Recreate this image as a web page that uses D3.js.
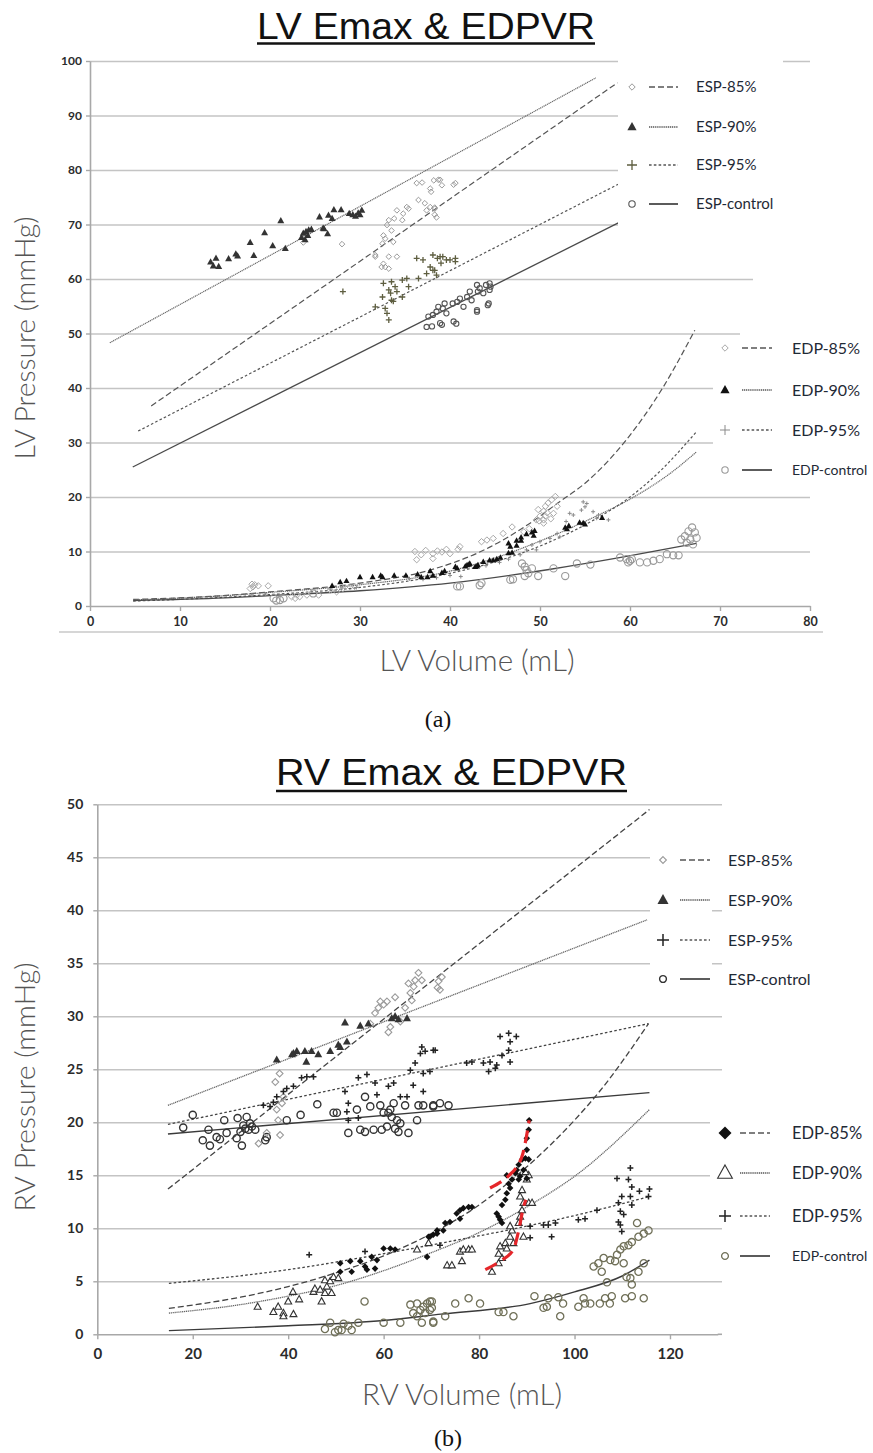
<!DOCTYPE html>
<html>
<head>
<meta charset="utf-8">
<script src="https://cdn.jsdelivr.net/npm/d3@7"></script>
<style>
body { margin: 0; background: #fff; }
svg { display: block; }
</style>
</head>
<body>
<div id="figure"></div>
<script>
//----- panel (a) LV data, [volume mL, pressure mmHg] -----
var lvXTicks = [0, 10, 20, 30, 40, 50, 60, 70, 80];
var lvYTicks = [0, 10, 20, 30, 40, 50, 60, 70, 80, 90, 100];

var lvEsp85 = [[36.3,77.6],[36.9,77.7],[38.2,78.1],[38.7,78.2],[37.8,76.6],[37.9,76.0],[39.1,77.2],[40.6,77.6],[40.4,77.3],[36.5,74.5],[37.2,73.9],[35.2,73.2],[34.1,72.6],[34.8,72.0],[35.4,72.9],[37.4,72.6],[37.8,73.2],[38.3,72.9],[38.5,71.3],[33.8,71.1],[33.2,70.8],[34.7,70.8],[33.0,69.9],[33.5,68.9],[32.6,68.0],[32.8,67.4],[33.7,66.8],[32.5,66.5],[28.0,66.4],[31.7,64.1],[33.2,64.1],[34.1,64.1],[32.6,62.8],[32.8,62.2],[33.2,61.9],[32.4,62.2],[23.7,66.7],[38.9,78.2],[38.3,73.1],[38.3,71.8],[31.7,64.4]];
var lvEsp90 = [[13.4,63.1],[14.0,63.8],[13.7,62.4],[14.3,62.3],[15.4,63.7],[16.2,64.6],[16.4,64.2],[17.8,66.7],[18.2,64.3],[19.4,68.5],[20.3,66.1],[21.2,70.7],[21.7,65.6],[23.5,67.6],[23.7,68.4],[24.0,68.7],[24.3,69.0],[24.6,69.1],[25.5,71.4],[26.0,69.2],[26.4,68.3],[26.5,71.7],[26.9,71.1],[27.1,72.7],[27.9,72.7],[28.8,72.0],[29.2,71.8],[29.8,72.1],[30.2,72.6],[30.0,71.8],[29.5,71.5],[24.2,68.0],[23.9,67.2],[25.9,69.3]];
var lvEsp95 = [[36.3,63.8],[37.0,63.5],[38.1,64.4],[38.6,63.8],[39.2,64.1],[39.6,63.5],[40.6,63.8],[39.0,62.9],[37.8,62.2],[38.3,61.6],[37.4,61.0],[38.5,60.7],[36.5,60.1],[35.2,60.1],[34.7,59.8],[32.6,59.2],[33.5,59.5],[33.9,58.6],[33.2,58.0],[34.1,57.7],[35.4,58.6],[34.7,56.7],[33.4,57.4],[32.5,56.7],[33.5,56.1],[31.7,54.9],[32.8,54.6],[33.0,53.7],[33.2,52.5],[28.1,57.7],[33.7,55.9],[38.9,64.1],[40.0,63.5],[40.6,63.2],[38.1,61.6]];
var lvEspCtrl = [[43.0,58.9],[43.3,58.3],[44.0,58.9],[44.4,58.0],[44.5,58.6],[43.1,57.7],[43.7,57.4],[42.2,57.7],[41.9,56.7],[42.4,56.1],[41.1,56.4],[40.8,55.8],[40.3,55.5],[39.4,55.5],[39.2,54.6],[38.7,54.9],[38.5,54.0],[38.1,53.4],[37.6,53.1],[37.4,51.2],[38.0,51.3],[39.1,51.6],[40.7,51.8],[43.0,54.0],[44.2,55.2],[39.6,53.7],[41.5,54.9],[44.4,59.2],[44.3,55.5],[43.0,54.3],[40.4,52.2],[38.9,51.9]];

var lvEdp85 = [[18.0,4.0],[18.3,3.9],[18.7,3.7],[18.1,3.5],[17.8,3.2],[19.8,3.7],[22.4,1.7],[23.0,2.0],[23.3,1.7],[24.1,2.0],[22.8,1.4],[25.4,2.0],[26.7,2.9],[28.1,3.2],[28.9,3.5],[29.4,3.6],[27.4,2.6],[36.1,10.0],[36.3,8.5],[36.8,9.4],[37.3,10.2],[38.1,9.6],[38.6,10.1],[39.1,9.9],[39.6,10.4],[40.0,9.6],[40.9,10.4],[38.1,8.7],[41.1,10.9],[43.5,11.8],[44.1,12.1],[44.8,12.4],[45.9,13.3],[46.9,14.5],[49.6,15.8],[50.0,16.5],[50.4,17.4],[50.6,18.3],[50.9,18.9],[51.3,19.5],[51.7,20.1],[49.9,15.6],[50.4,15.8],[50.6,16.5],[50.8,17.1],[49.8,17.7],[51.9,18.3],[50.4,15.2],[48.8,14.2],[48.2,13.6],[51.2,16.0],[51.5,17.0]];
var lvEdp90 = [[26.9,3.7],[27.8,4.4],[28.5,4.6],[30.0,5.3],[31.4,5.3],[32.3,5.6],[32.5,5.3],[33.8,5.6],[35.1,5.6],[36.4,5.8],[36.8,5.3],[37.5,5.3],[38.1,5.6],[37.8,6.4],[39.1,6.1],[39.4,6.4],[40.8,6.9],[41.7,7.3],[42.1,7.6],[43.0,7.3],[40.6,7.2],[41.9,7.5],[42.8,7.2],[43.7,8.1],[44.8,8.4],[45.6,8.9],[46.7,10.9],[46.5,11.5],[46.5,9.7],[47.4,12.0],[47.9,12.6],[48.5,13.2],[49.1,13.5],[49.4,13.8],[49.3,12.9],[52.8,14.4],[53.2,14.7],[54.4,15.3],[55.0,15.0],[56.9,16.2],[47.4,11.1],[47.9,12.0],[46.9,9.8],[42.2,7.8],[43.1,7.5],[44.4,8.4],[45.2,8.6],[53.0,14.1],[54.8,15.2]];
var lvEdp95 = [[54.8,19.1],[55.2,18.8],[55.0,18.2],[54.6,17.6],[53.3,17.0],[53.7,16.7],[55.9,17.3],[56.5,16.7],[56.3,16.1],[57.6,15.8],[52.9,15.5],[51.9,13.3],[52.2,12.7],[51.1,12.4],[50.0,11.8],[49.1,11.2],[48.5,10.3],[49.6,10.3],[47.8,9.4],[35.5,5.0],[37.0,4.9],[38.5,5.2],[40.0,5.6],[41.2,5.4],[26.7,3.1],[28.0,3.3],[29.6,3.4],[18.0,2.0],[19.5,2.2],[44.0,7.4],[45.5,8.0],[46.5,8.6]];
var lvEdpCtrl = [[20.4,1.4],[21.1,1.1],[21.5,1.4],[20.7,1.0],[24.8,2.3],[41.1,3.6],[43.5,4.2],[46.7,4.8],[48.0,7.8],[48.3,7.2],[48.5,6.6],[48.7,6.0],[49.1,6.9],[48.3,5.5],[49.8,5.5],[51.5,6.9],[52.8,5.5],[54.1,7.8],[55.6,7.6],[58.9,8.9],[59.6,8.6],[60.0,8.3],[59.8,8.0],[60.2,8.6],[61.1,8.0],[61.9,8.0],[62.6,8.3],[63.3,8.6],[64.1,9.5],[64.8,9.3],[65.4,9.3],[65.7,12.2],[66.1,12.8],[66.5,13.7],[66.9,14.4],[67.2,13.5],[66.7,12.2],[67.4,12.5],[66.3,11.6],[67.0,11.3],[43.3,3.8],[47.0,4.9],[40.8,3.6]];

//fitted lines
var lvEsp85Line = [[6.8,36.7],[58.6,96.0]];
var lvEsp90Line = [[2.2,48.3],[56.2,96.9]];
var lvEsp95Line = [[5.35,32.1],[58.7,77.4]];
var lvEspCtrlLine = [[4.75,25.5],[58.7,70.3]];
var lvEdp85Curve = [[4.8,1.2],[15.6,2.0],[20,2.6],[30,4.2],[37.8,6.6],[43.3,9.9],[48.9,15.2],[51.9,18.8],[55.2,22.8],[59.6,30.5],[63.7,40.2],[67.2,50.6]];
var lvEdp90Curve = [[4.8,1.1],[15,1.9],[20,2.5],[30,3.9],[40,6.4],[45,8.8],[51,12.6],[56,16.3],[60,19.6],[64.6,24.5],[67.4,28.3]];
var lvEdp95Curve = [[4.8,0.9],[15,1.6],[20,2.1],[30,3.4],[40,6.0],[45,8.1],[51,11.7],[56,15.8],[60,20.0],[63,24.2],[67.4,32.0]];
var lvEdpCtrlCurve = [[4.8,1.0],[15,1.5],[20,1.9],[30,2.8],[40,4.2],[51,6.7],[59.3,9.0],[67.4,11.5]];

//----- panel (b) RV data -----
var rvXTicks = [0, 20, 40, 60, 80, 100, 120];
var rvYTicks = [0, 5, 10, 15, 20, 25, 30, 35, 40, 45, 50];

var rvEsp85 = [[37.3,23.8],[38.2,24.6],[57.2,29.3],[58.2,30.3],[58.9,30.8],[59.3,31.4],[60.0,31.1],[60.7,31.4],[61.0,28.5],[61.4,29.0],[62.4,31.8],[63.5,29.5],[64.5,30.8],[65.6,32.2],[66.3,32.8],[67.3,34.1],[68.0,33.4],[66.6,33.4],[65.2,33.1],[65.9,31.5],[71.5,33.3],[71.8,32.5],[72.2,33.7],[71.3,32.7],[33.8,18.0],[35.5,19.0],[38.3,18.8],[37.9,20.2],[37.6,21.2],[38.7,21.8],[39.0,22.4]];
var rvEsp90 = [[37.6,25.9],[40.8,26.4],[41.8,26.7],[43.5,26.7],[43.8,25.7],[44.9,26.7],[46.3,26.4],[48.8,26.7],[50.5,27.3],[50.9,27.1],[52.3,27.6],[51.9,29.4],[55.1,29.1],[56.8,29.3],[61.7,29.8],[62.4,30.0],[63.1,29.7],[64.9,29.8],[41.1,26.5]];
var rvEsp95 = [[68.0,27.1],[67.7,26.5],[68.7,26.7],[70.4,26.8],[66.6,25.6],[65.6,24.9],[68.3,24.6],[66.2,23.5],[56.5,24.5],[54.7,24.2],[58.2,23.7],[62.1,23.7],[61.0,23.4],[42.8,24.2],[43.9,24.3],[45.3,24.3],[41.1,23.4],[39.7,23.2],[84.4,28.1],[86.2,28.4],[87.8,28.1],[86.5,27.6],[86.2,26.8],[84.8,26.3],[86.5,25.7],[83.7,25.4],[82.3,25.7],[80.9,25.6],[78.5,25.7],[77.4,25.6],[82.0,24.8],[83.4,25.1],[70.8,26.8],[69.7,24.8],[36.2,21.5],[36.9,21.9],[34.8,21.6],[37.6,22.4],[39.0,22.9],[52.6,21.8],[52.3,21.0],[52.6,20.2],[54.7,20.4],[51.9,22.9],[58.6,22.6],[63.5,22.4],[64.9,22.4],[68.3,22.9]];
var rvEspCtrl = [[18.0,19.5],[20.0,20.7],[22.1,18.3],[23.3,19.3],[23.6,17.8],[25.0,18.6],[25.7,18.4],[26.6,20.2],[27.1,19.0],[29.2,18.5],[29.4,20.4],[30.3,17.8],[30.6,19.7],[31.3,20.5],[31.7,19.3],[32.4,19.6],[33.1,19.3],[35.2,18.3],[35.5,18.6],[39.7,20.2],[42.6,20.7],[46.1,21.7],[49.5,20.9],[50.2,20.9],[52.6,19.0],[54.4,21.2],[55.1,19.3],[56.1,22.4],[56.1,19.1],[57.2,21.5],[57.9,19.3],[59.3,21.6],[59.6,19.3],[60.0,20.9],[60.7,19.6],[61.4,21.2],[61.7,20.5],[62.4,19.4],[63.1,19.1],[63.5,19.9],[64.5,21.6],[65.2,19.0],[67.0,20.2],[67.3,21.6],[68.3,21.6],[70.4,21.5],[62.8,20.2],[62.1,21.8],[61.0,20.9],[70.4,21.6],[71.8,21.8],[73.6,21.6],[31.0,19.4],[30.0,19.1],[32.0,19.9]];

var rvEdp85 = [[50.9,5.9],[53.0,6.9],[53.3,5.9],[55.1,6.9],[56.1,6.4],[56.5,6.1],[57.5,7.3],[58.2,6.2],[58.6,7.0],[60.0,8.1],[61.4,8.1],[62.4,8.0],[69.1,7.3],[69.4,9.2],[70.4,9.4],[71.2,9.8],[50.9,6.7],[69.7,9.2],[71.2,9.5],[72.5,9.8],[72.9,10.5],[73.9,10.6],[75.3,11.4],[76.0,11.7],[76.7,11.9],[77.8,12.0],[78.5,12.0],[76.0,10.9],[83.7,11.4],[84.1,11.1],[84.8,12.2],[85.5,12.7],[85.8,13.3],[86.5,13.8],[86.2,14.2],[86.9,14.6],[87.6,15.2],[87.9,15.5],[88.3,16.0],[89.0,16.5],[89.7,16.6],[90.4,16.5],[89.3,15.5],[88.6,14.9],[90.0,17.4],[90.0,18.5],[90.4,19.3],[90.5,20.2],[90.0,14.7],[88.3,14.6],[84.8,10.5],[84.4,10.8],[85.8,15.0]];
var rvEdp90 = [[33.6,2.6],[36.9,2.1],[37.9,2.6],[39.0,2.0],[39.0,1.7],[41.1,1.9],[40.0,3.1],[41.0,4.0],[42.3,3.3],[45.3,4.0],[45.6,4.3],[46.7,4.2],[47.0,3.1],[47.7,3.9],[48.1,4.5],[47.7,5.1],[49.1,3.9],[48.8,5.0],[49.5,5.4],[50.5,5.3],[67.0,8.0],[69.4,8.6],[73.3,6.5],[74.3,6.5],[76.4,6.9],[76.0,7.8],[76.7,8.0],[77.8,8.0],[78.5,8.0],[82.7,5.9],[84.1,6.7],[84.8,7.2],[84.1,7.6],[84.4,8.3],[85.5,8.6],[85.8,8.1],[86.5,9.2],[86.9,9.8],[86.5,10.2],[88.3,10.5],[88.6,11.1],[89.0,11.7],[89.3,12.4],[90.4,12.4],[91.1,12.4],[88.6,13.0],[89.0,13.6],[90.0,14.6],[90.4,15.0],[89.7,15.3],[89.3,9.2],[87.2,8.6]];
var rvEdp95 = [[44.4,7.5],[56.1,7.8],[71.8,8.4],[90.7,9.1],[90.7,10.2],[93.5,10.3],[94.5,10.3],[95.2,9.2],[96.0,10.5],[100.8,10.8],[102.2,10.9],[104.7,11.7],[108.9,14.7],[109.2,12.4],[109.6,10.3],[109.9,9.7],[110.3,11.3],[109.9,13.0],[111.3,14.6],[111.7,15.7],[112.0,13.9],[111.7,13.0],[112.0,12.2],[113.6,13.5],[115.5,13.0],[115.7,13.7],[109.2,10.6],[109.6,11.6]];
var rvEdpCtrl = [[47.7,0.5],[48.8,1.1],[49.8,0.2],[50.5,0.4],[51.2,0.4],[51.6,1.0],[52.6,0.8],[53.3,0.4],[54.7,1.1],[56.0,3.1],[60.0,1.1],[63.5,1.1],[65.6,2.8],[67.0,2.9],[67.7,2.3],[68.3,2.6],[69.1,2.9],[70.1,3.1],[68.0,1.1],[70.4,1.1],[68.7,2.0],[69.7,2.3],[67.0,1.7],[66.2,2.0],[69.7,3.1],[70.1,2.5],[70.4,1.2],[72.9,1.7],[75.0,2.9],[77.8,3.4],[80.2,2.9],[84.1,2.1],[85.1,2.1],[87.2,1.7],[91.6,3.6],[93.5,2.5],[94.2,2.6],[94.5,3.4],[96.6,3.5],[97.0,1.7],[97.6,2.9],[100.8,2.6],[101.9,3.4],[102.2,2.9],[103.3,2.9],[105.3,2.9],[106.4,3.4],[107.4,2.9],[107.8,3.6],[110.6,3.4],[112.0,3.6],[114.5,3.4],[104.0,6.4],[105.0,6.7],[105.7,5.9],[106.1,7.2],[106.8,4.9],[107.5,7.0],[108.5,6.9],[108.9,7.5],[109.6,8.0],[110.3,8.3],[111.3,8.4],[112.0,8.7],[110.9,5.4],[111.7,5.3],[112.0,4.7],[113.1,10.5],[113.4,9.2],[114.5,9.5],[115.5,9.8],[113.4,5.9],[114.5,6.7],[110.3,6.7]];

var rvEsp85Line = [[14.8,13.7],[115.7,49.5]];
var rvEsp90Line = [[14.8,21.6],[115.2,39.1]];
var rvEsp95Line = [[14.8,19.8],[115.5,29.3]];
var rvEspCtrlLine = [[14.8,18.9],[115.7,22.8]];
var rvEdp85Curve = [[15,2.45],[30,3.5],[40,4.5],[50,5.8],[60,7.4],[70,9.5],[80,12.2],[90,15.8],[100,20.2],[105.4,23.0],[115.5,29.3]];
var rvEdp90Curve = [[15,2.0],[30,2.8],[40,3.6],[50,4.6],[60,6.0],[70,7.7],[80,9.6],[90.7,12.2],[100,14.9],[115.7,21.2]];
var rvEdp95Curve = [[15,4.8],[40,6.1],[60,7.6],[72,8.6],[90,10.2],[100,11.2],[115.7,13.0]];
var rvEdpCtrlCurve = [[15,0.35],[40,0.8],[60,1.3],[72,1.9],[90.7,2.9],[100,4.0],[110,5.5],[115.7,7.0]];

//red hand-drawn annotation
var rvRedUpper = [[82.3,13.8],[86.3,15.0],[87.9,15.8],[89.2,17.1],[90.5,20.2]];
var rvRedLower = [[81.3,6.1],[84.4,6.9],[87.2,8.0],[88.3,9.8],[89.3,12.0],[89.8,12.7]];

var espLabels = ["ESP-85%", "ESP-90%", "ESP-95%", "ESP-control"];
var edpLabels = ["EDP-85%", "EDP-90%", "EDP-95%", "EDP-control"];

//----- drawing -----
var svgW = 873, svgH = 1453;
var svg = d3.select("#figure").append("svg")
    .attr("width", svgW)
    .attr("height", svgH);

var tickFont = "Lato, 'Open Sans', sans-serif";

//line dash styles in legend order: 85%, 90%, 95%, control
var dashes = ["6,3", "1.2,0.7", "2.6,2.2", null];

function shapePath(shape, r) {
    if (shape === "diamond") return `M0,${-r}L${r},0L0,${r}L${-r},0Z`;
    if (shape === "triangle") return `M0,${-r}L${r * 0.92},${r * 0.66}L${-r * 0.92},${r * 0.66}Z`;
    if (shape === "plus") return `M${-r},0H${r}M0,${-r}V${r}`;
    return `M${r},0A${r},${r} 0 1,1 ${-r},0A${r},${r} 0 1,1 ${r},0Z`;
}

function drawMarkers(g, data, x, y, m) {
    g.append("g").selectAll("path")
        .data(data)
        .join("path")
        .attr("transform", d => `translate(${x(d[0])},${y(d[1])})`)
        .attr("d", shapePath(m.shape, m.r))
        .attr("fill", m.fill || "none")
        .attr("stroke", m.stroke || "none")
        .attr("stroke-width", m.sw || 1);
}

function drawFit(g, data, x, y, dash, color, sw, curved) {
    var line = d3.line().x(d => x(d[0])).y(d => y(d[1]));
    if (curved) line.curve(d3.curveMonotoneX);
    g.append("path")
        .datum(data)
        .attr("d", line)
        .attr("fill", "none")
        .attr("stroke", color)
        .attr("stroke-width", sw)
        .attr("stroke-dasharray", dash);
}

function drawAxes(g, x, y, p) {
    //horizontal gridlines
    g.append("g")
        .attr("transform", `translate(${p.left},0)`)
        .call(d3.axisLeft(y).tickValues(p.yTicks.slice(1)).tickSize(-(p.gridRight - p.left)).tickFormat(""))
        .call(s => s.select(".domain").remove())
        .selectAll("line").attr("stroke", "#c4c4c4").attr("stroke-width", 1.6);

    //y axis
    var ya = g.append("g")
        .attr("transform", `translate(${p.left},0)`)
        .call(d3.axisLeft(y).tickValues(p.yTicks).tickSize(4).tickSizeOuter(0).tickPadding(p.yPad));
    //x axis
    var xa = g.append("g")
        .attr("transform", `translate(0,${p.bottom})`)
        .call(d3.axisBottom(x).tickValues(p.xTicks).tickSize(5).tickSizeOuter(0).tickPadding(p.xPad));
    [ya, xa].forEach(function(a) {
        a.select(".domain").attr("stroke", "#a8a8a8").attr("stroke-width", 1.6);
        a.selectAll("line").attr("stroke", "#a8a8a8").attr("stroke-width", 1.4);
        a.attr("font-family", tickFont).attr("font-weight", 700);
    });
    ya.attr("font-size", p.yFont).selectAll("text").attr("fill", "#2b2b2b");
    xa.attr("font-size", p.xFont).selectAll("text").attr("fill", "#2b2b2b");
    //the axis line runs on a little past the last value
    xa.append("line").attr("x1", x.range()[1]).attr("x2", p.gridRight)
        .attr("stroke", "#a8a8a8").attr("stroke-width", 1.6);
}

function drawLegend(g, labels, styles, o) {
    labels.forEach(function(lab, i) {
        var yy = o.ys[i];
        g.append("path")
            .attr("transform", `translate(${o.mx},${yy})`)
            .attr("d", shapePath(styles[i].shape, styles[i].lr))
            .attr("fill", styles[i].fill || "none")
            .attr("stroke", styles[i].stroke || "none")
            .attr("stroke-width", styles[i].sw || 1);
        g.append("line")
            .attr("x1", o.lx0).attr("x2", o.lx1)
            .attr("y1", yy).attr("y2", yy)
            .attr("stroke", i === 3 ? "#333" : "#555")
            .attr("stroke-width", i === 3 ? 1.6 : 1.4)
            .attr("stroke-dasharray", dashes[i]);
        g.append("text")
            .attr("x", o.tx).attr("y", yy)
            .attr("dy", "0.36em")
            .attr("font-family", tickFont)
            .attr("font-size", (i === 3 && o.lastFs) ? o.lastFs : o.fs)
            .attr("fill", "#1f2a36")
            .text(lab);
    });
}

function whiteBoxes(g, boxes) {
    boxes.forEach(function(b) {
        g.append("rect").attr("x", b[0]).attr("y", b[1])
            .attr("width", b[2] - b[0]).attr("height", b[3] - b[1])
            .attr("fill", "#fff");
    });
}

function titleText(txt, x0, x1, base, uline) {
    svg.append("text")
        .attr("x", (x0 + x1) / 2).attr("y", base)
        .attr("text-anchor", "middle")
        .attr("font-family", "'Liberation Sans', Arial, sans-serif")
        .attr("font-size", 36)
        .attr("fill", "#111")
        .attr("textLength", x1 - x0)
        .attr("lengthAdjust", "spacingAndGlyphs")
        .text(txt);
    svg.append("line").attr("x1", x0).attr("x2", x1)
        .attr("y1", uline).attr("y2", uline)
        .attr("stroke", "#111").attr("stroke-width", 2.4);
}

function axisTitle(txt, cx, cy, len, rotate, fs) {
    svg.append("text")
        .attr("transform", rotate ? `translate(${cx},${cy}) rotate(-90)` : `translate(${cx},${cy})`)
        .attr("text-anchor", "middle")
        .attr("font-family", "Lato, 'Open Sans', sans-serif")
        .attr("font-weight", 300)
        .attr("font-size", fs)
        .attr("fill", "#555")
        .attr("textLength", len)
        .attr("lengthAdjust", "spacingAndGlyphs")
        .text(txt);
}

function panelLabel(txt, cx, base) {
    svg.append("text")
        .attr("x", cx).attr("y", base)
        .attr("text-anchor", "middle")
        .attr("font-family", "'Liberation Serif', 'Times New Roman', serif")
        .attr("font-size", 24)
        .attr("fill", "#111")
        .text(txt);
}

//===== panel (a) =====
var pa = {left: 90, right: 810, top: 61, bottom: 606, gridRight: 810,
    xTicks: lvXTicks, yTicks: lvYTicks, yPad: 4, xPad: 6, yFont: 12, xFont: 12.5};
var xa = d3.scaleLinear().domain([0, 80]).range([pa.left, pa.right]);
var ya = d3.scaleLinear().domain([0, 100]).range([pa.bottom, pa.top]);
var ga = svg.append("g");

drawAxes(ga, xa, ya, pa);

//chart frame bottom edge
ga.append("line").attr("x1", 59).attr("x2", 823).attr("y1", 632).attr("y2", 632)
    .attr("stroke", "#c8c8c8").attr("stroke-width", 1.5);

drawFit(ga, lvEsp85Line, xa, ya, dashes[0], "#555", 1.2, false);
drawFit(ga, lvEsp90Line, xa, ya, dashes[1], "#666", 1.2, false);
drawFit(ga, lvEsp95Line, xa, ya, dashes[2], "#555", 1.2, false);
drawFit(ga, lvEspCtrlLine, xa, ya, null, "#4a4a4a", 1.3, false);
drawFit(ga, lvEdp85Curve, xa, ya, dashes[0], "#555", 1.2, true);
drawFit(ga, lvEdp90Curve, xa, ya, dashes[1], "#666", 1.2, true);
drawFit(ga, lvEdp95Curve, xa, ya, dashes[2], "#555", 1.2, true);
drawFit(ga, lvEdpCtrlCurve, xa, ya, null, "#4a4a4a", 1.3, true);

var lvEspStyles = [
    {shape: "diamond", r: 2.8, lr: 3.2, stroke: "#9a9a9a", sw: 1},
    {shape: "triangle", r: 3.8, lr: 5, fill: "#333"},
    {shape: "plus", r: 3, lr: 5, stroke: "#5e5e40", sw: 1.3},
    {shape: "circle", r: 2.6, lr: 3.2, stroke: "#555", sw: 1.1}
];
var lvEdpStyles = [
    {shape: "diamond", r: 3.2, lr: 3.2, stroke: "#a8a8a8", sw: 1},
    {shape: "triangle", r: 3.3, lr: 5, fill: "#111"},
    {shape: "plus", r: 2, lr: 5, stroke: "#8a8a8a", sw: 1},
    {shape: "circle", r: 3.6, lr: 3.2, stroke: "#999", sw: 1.1}
];

drawMarkers(ga, lvEsp85, xa, ya, lvEspStyles[0]);
drawMarkers(ga, lvEsp95, xa, ya, lvEspStyles[2]);
drawMarkers(ga, lvEspCtrl, xa, ya, lvEspStyles[3]);
drawMarkers(ga, lvEsp90, xa, ya, lvEspStyles[1]);
drawMarkers(ga, lvEdpCtrl, xa, ya, lvEdpStyles[3]);
drawMarkers(ga, lvEdp85, xa, ya, lvEdpStyles[0]);
drawMarkers(ga, lvEdp95, xa, ya, lvEdpStyles[2]);
drawMarkers(ga, lvEdp90, xa, ya, lvEdpStyles[1]);

//legend backgrounds hide the gridlines behind them
whiteBoxes(ga, [[618, 55, 783, 272], [783, 66, 873, 272], [753, 272, 873, 331], [740, 331, 873, 365], [713, 365, 873, 480]]);
drawLegend(ga, espLabels, lvEspStyles, {mx: 632, lx0: 649, lx1: 678, tx: 696, ys: [87, 127, 165, 204], fs: 15});
drawLegend(ga, edpLabels, lvEdpStyles, {mx: 725, lx0: 742, lx1: 772, tx: 792, ys: [348, 390, 430, 470], fs: 16, lastFs: 14});

titleText("LV Emax & EDPVR", 257, 595, 39, 43.5);
axisTitle("LV  Pressure (mmHg)", 35, 338, 243, true, 27);
axisTitle("LV Volume (mL)", 477, 671, 195, false, 29);
panelLabel("(a)", 438, 727);

//===== panel (b) =====
var pb = {left: 97.3, right: 717.7, top: 804.3, bottom: 1334.3, gridRight: 722,
    xTicks: rvXTicks, yTicks: rvYTicks, yPad: 10, xPad: 9, yFont: 14, xFont: 15};
var xb = d3.scaleLinear().domain([0, 130]).range([pb.left, pb.right]);
var yb = d3.scaleLinear().domain([0, 50]).range([pb.bottom, pb.top]);
var gb = svg.append("g");

drawAxes(gb, xb, yb, pb);

drawFit(gb, rvEsp85Line, xb, yb, dashes[0], "#444", 1.3, false);
drawFit(gb, rvEsp90Line, xb, yb, dashes[1], "#666", 1.3, false);
drawFit(gb, rvEsp95Line, xb, yb, dashes[2], "#444", 1.3, false);
drawFit(gb, rvEspCtrlLine, xb, yb, null, "#3a3a3a", 1.4, false);
drawFit(gb, rvEdp85Curve, xb, yb, dashes[0], "#444", 1.3, true);
drawFit(gb, rvEdp90Curve, xb, yb, dashes[1], "#666", 1.3, true);
drawFit(gb, rvEdp95Curve, xb, yb, dashes[2], "#444", 1.3, true);
drawFit(gb, rvEdpCtrlCurve, xb, yb, null, "#3a3a3a", 1.4, true);

var rvEspStyles = [
    {shape: "diamond", r: 3.4, lr: 3.4, stroke: "#9a9a9a", sw: 1.1},
    {shape: "triangle", r: 4.3, lr: 6, fill: "#333"},
    {shape: "plus", r: 3, lr: 6, stroke: "#222", sw: 1.5},
    {shape: "circle", r: 3.6, lr: 3.4, stroke: "#333", sw: 1.4}
];
var rvEdpStyles = [
    {shape: "diamond", r: 3.3, lr: 6.5, fill: "#111"},
    {shape: "triangle", r: 3.8, lr: 8, fill: "#fff", stroke: "#333", sw: 1.1},
    {shape: "plus", r: 3, lr: 6, stroke: "#222", sw: 1.5},
    {shape: "circle", r: 3.6, lr: 3.4, stroke: "#707058", sw: 1.3}
];

drawMarkers(gb, rvEspCtrl, xb, yb, rvEspStyles[3]);
drawMarkers(gb, rvEsp85, xb, yb, rvEspStyles[0]);
drawMarkers(gb, rvEsp95, xb, yb, rvEspStyles[2]);
drawMarkers(gb, rvEsp90, xb, yb, rvEspStyles[1]);
drawMarkers(gb, rvEdpCtrl, xb, yb, rvEdpStyles[3]);
drawMarkers(gb, rvEdp90, xb, yb, rvEdpStyles[1]);
drawMarkers(gb, rvEdp95, xb, yb, rvEdpStyles[2]);
drawMarkers(gb, rvEdp85, xb, yb, rvEdpStyles[0]);

//red annotation dashes
[rvRedUpper, rvRedLower].forEach(function(pts) {
    drawFit(gb, pts, xb, yb, "13,7", "#e5262a", 3.2, true);
});

whiteBoxes(gb, [[650, 830, 712, 1002], [712, 830, 873, 900], [712, 920, 873, 955], [710, 1100, 873, 1205]]);
drawLegend(gb, espLabels, rvEspStyles, {mx: 663, lx0: 680, lx1: 710, tx: 728, ys: [860, 900, 940, 979], fs: 16});
drawLegend(gb, edpLabels, rvEdpStyles, {mx: 725, lx0: 740, lx1: 770, tx: 792, ys: [1133, 1173, 1216, 1256], fs: 16.5, lastFs: 14});

titleText("RV Emax & EDPVR", 276, 627, 785, 791);
axisTitle("RV  Pressure (mmHg)", 35, 1087, 249, true, 27);
axisTitle("RV Volume (mL)", 462, 1405, 200, false, 29);
panelLabel("(b)", 448, 1446);
</script>
</body>
</html>
